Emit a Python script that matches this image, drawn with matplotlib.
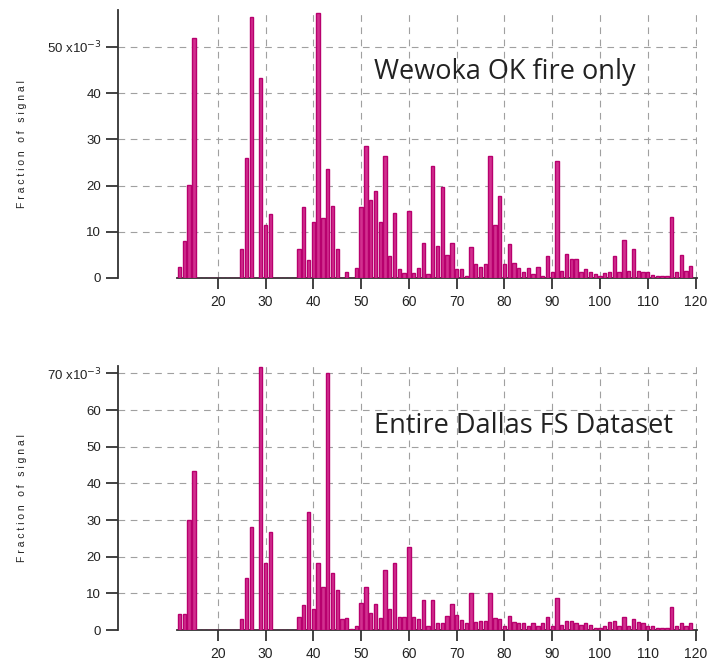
import numpy as np
import matplotlib.pyplot as plt

# m/z axis, 12..119
mz = np.arange(12, 120)

# fraction of signal (x1e-3), Wewoka OK fire
wewoka = [
    2.4, 7.9, 20.1, 51.9, 0, 0, 0, 0, 0, 0, 0, 0, 0, 6.2,        # 12-25
    25.9, 56.4, 0, 43.2, 11.5, 13.9, 0, 0, 0, 0, 0, 6.2,          # 26-37
    15.4, 4.0, 12.2, 57.4, 12.9, 23.5, 15.5, 6.2, 0, 1.2, 0, 2.1,  # 38-49
    15.4, 28.6, 16.9, 18.9, 12.2, 26.5, 4.8, 14.1, 1.9, 1.1,      # 50-59
    14.4, 1.1, 2.1, 7.5, 0.8, 24.3, 6.9, 19.6, 5.0, 7.5,          # 60-69
    1.9, 1.9, 0.5, 6.7, 3.0, 2.4, 3.0, 26.5, 11.5, 17.8,          # 70-79
    3.0, 7.3, 3.2, 2.1, 1.2, 2.1, 0.8, 2.3, 0.5, 4.8,             # 80-89
    1.4, 25.4, 1.6, 5.2, 4.1, 4.1, 1.4, 1.9, 1.4, 0.8,            # 90-99
    0.5, 1.1, 1.4, 4.8, 1.4, 8.2, 1.6, 6.2, 1.6, 1.4,             # 100-109
    1.4, 0.7, 0.5, 0.5, 0.5, 13.3, 1.2, 5.0, 1.6, 2.6,            # 110-119
]

# fraction of signal (x1e-3), entire Dallas FS dataset
dallas = [
    4.4, 4.4, 30.0, 43.4, 0, 0, 0, 0, 0, 0, 0, 0, 0, 2.9,        # 12-25
    14.1, 28.1, 0, 71.7, 18.2, 26.8, 0, 0, 0, 0, 0, 3.6,          # 26-37
    6.8, 32.2, 5.6, 18.3, 11.8, 70.1, 15.6, 10.9, 2.9, 3.2, 0.3, 1.0,  # 38-49
    7.3, 11.6, 4.6, 7.1, 3.2, 16.5, 5.8, 18.3, 3.6, 3.6,          # 50-59
    22.7, 3.6, 2.9, 8.1, 1.0, 8.3, 1.8, 1.8, 3.8, 7.1,            # 60-69
    4.1, 2.7, 1.8, 10.2, 2.2, 2.4, 2.4, 10.2, 3.2, 2.9,           # 70-79
    1.0, 3.8, 2.2, 2.0, 2.0, 1.1, 1.8, 1.0, 1.8, 3.6,             # 80-89
    1.0, 8.6, 1.4, 2.4, 2.4, 2.0, 1.4, 1.8, 1.4, 0.6,             # 90-99
    0.6, 1.0, 2.2, 2.4, 1.0, 3.6, 1.1, 2.9, 2.2, 1.8,             # 100-109
    1.1, 1.0, 0.6, 0.6, 0.6, 6.3, 1.0, 1.8, 1.1, 2.0,             # 110-119
]

panels = [
    (wewoka, 58, 50, "Wewoka OK fire only", 43.0),
    (dallas, 72, 70, "Entire Dallas FS Dataset", 53.6),
]

fig = plt.figure(figsize=(7.12, 6.71), dpi=100)
rects = [[0.1657, 0.5857, 0.8132, 0.3994], [0.1657, 0.0611, 0.8132, 0.3934]]

for rect, (vals, ytop, ymaxtick, label, ylab) in zip(rects, panels):
    ax = fig.add_axes(rect)
    ax.bar(mz, vals, width=0.7, color='#d2308f', edgecolor='#b8006e', linewidth=1.0, zorder=3)
    ax.set_xlim(-0.9, 120.3)
    ax.set_ylim(0, ytop)

    xt = np.arange(20, 121, 10)
    yt = np.arange(0, ymaxtick + 1, 10)
    ax.set_xticks(xt)
    ax.set_yticks(yt)
    ylabels = [str(v) for v in yt]
    ylabels[-1] = f"{ymaxtick} x10$^{{-3}}$"
    ax.set_yticklabels(ylabels)

    for x in xt:
        ax.axvline(x, color='#a0a0a0', lw=0.8, ls=(0, (6, 5)), zorder=1)
    for y in yt[1:]:
        ax.axhline(y, color='#a0a0a0', lw=0.8, ls=(0, (6, 5)), zorder=1)

    for s in ['top', 'right']:
        ax.spines[s].set_visible(False)
    ax.spines['bottom'].set_bounds(11.5, 120.3)
    for s in ['left', 'bottom']:
        ax.spines[s].set_color('#333333')
        ax.spines[s].set_linewidth(1.3)

    ax.tick_params(axis='x', direction='out', length=8, width=1.3, color='#333333',
                   labelsize=10, pad=4, labelcolor='#222222')
    ax.tick_params(axis='y', direction='out', length=9, width=1.3, color='#333333',
                   labelsize=9.5, pad=3, labelcolor='#222222')
    for t in ax.get_xticklabels() + ax.get_yticklabels():
        t.set_family('Liberation Sans')

    ax.set_ylabel("F r a c t i o n   o f   s i g n a l", fontsize=7.5,
                  family='Liberation Sans', color='#222222', labelpad=14)

    ax.text(52.6, ylab, label, fontsize=19.5, family='Open Sans', color='#222222',
            va='baseline', ha='left', zorder=4)

fig.savefig('out.png', dpi=100)
